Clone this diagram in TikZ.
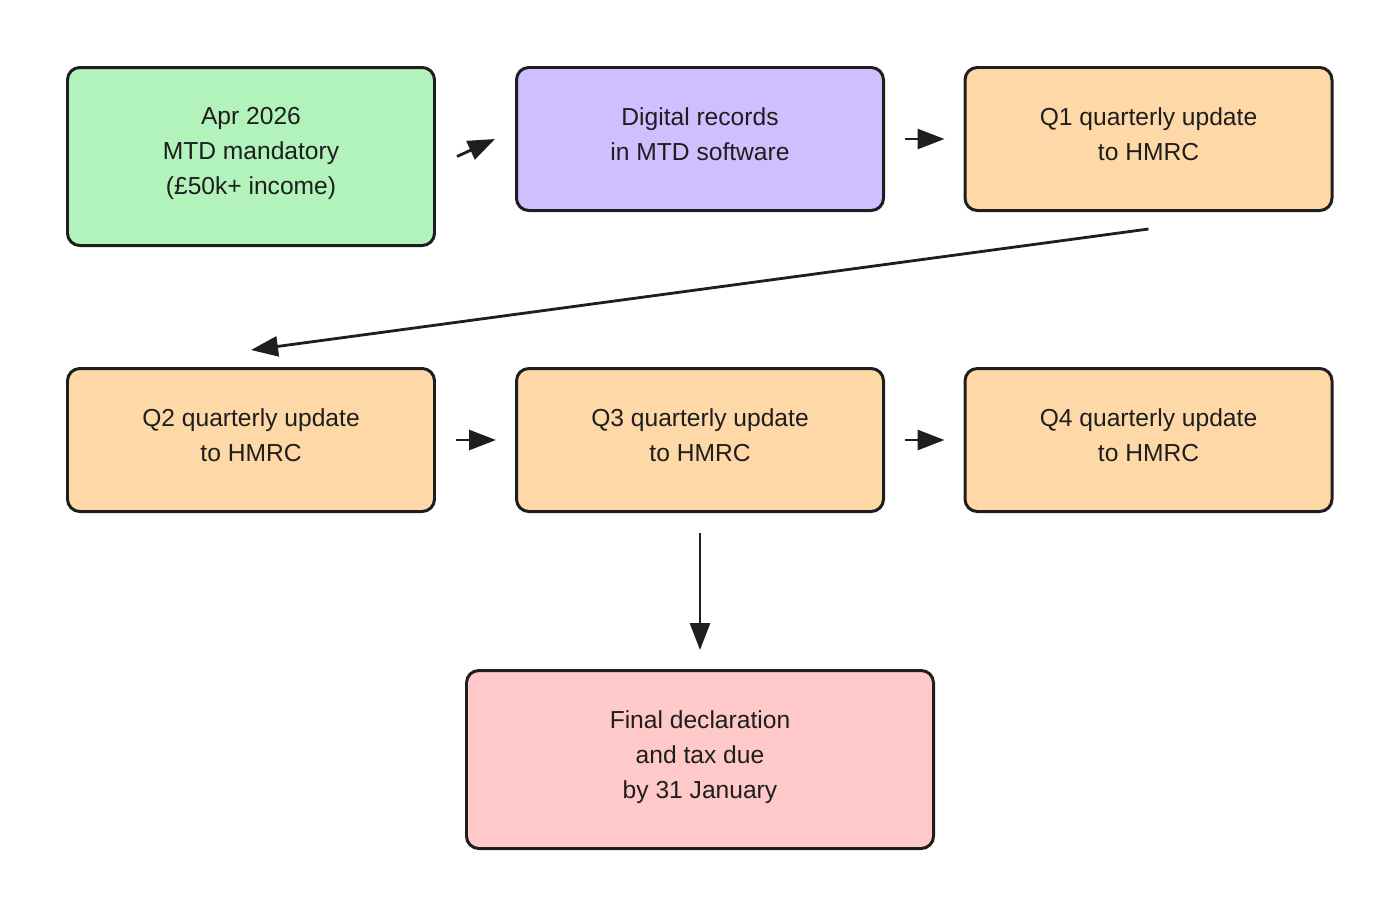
\documentclass[tikz,border=0pt]{standalone}
\usepackage{fontspec}
\setmainfont{Liberation Sans}
\usepackage{xcolor}
\usepackage{tikz}
\usetikzlibrary{arrows.meta, positioning, calc}

\definecolor{inkdark}{HTML}{1E1E1E}
\definecolor{startgreen}{HTML}{B2F2BB}
\definecolor{recordpurple}{HTML}{D0BFFF}
\definecolor{quarterorange}{HTML}{FFD8A8}
\definecolor{finalpink}{HTML}{FFC9C9}

\begin{document}
\begin{tikzpicture}[
    stage/.style={
        rectangle, rounded corners=7pt,
        draw=inkdark, line width=1.7pt,
        minimum width=7.34cm, minimum height=2.86cm,
        text centered, text=inkdark,
        font=\fontsize{14}{19.9}\selectfont,
        align=center, execute at end node=\strut
    },
    tall/.style={minimum height=3.56cm},
    arrow/.style={-{Triangle[length=0.54cm, width=0.4cm]}, line width=1.6pt,
        draw=inkdark},
    gapped/.style={shorten <=0.4cm, shorten >=0.38cm},
]

% Frame
\useasboundingbox (0,0) rectangle (28,-18.32);

% First row
\node[stage, tall, fill=startgreen] (start) at (5.02,-3.13)
    {Apr 2026\\MTD mandatory\\(£50k+ income)};
\node[stage, fill=recordpurple] (records) at (14.0,-2.78)
    {Digital records\\in MTD software};
\node[stage, fill=quarterorange] (qone) at (22.97,-2.78)
    {Q1 quarterly update\\to HMRC};

% Second row
\node[stage, fill=quarterorange] (qtwo) at (5.02,-8.8)
    {Q2 quarterly update\\to HMRC};
\node[stage, fill=quarterorange] (qthree) at (14.0,-8.8)
    {Q3 quarterly update\\to HMRC};
\node[stage, fill=quarterorange] (qfour) at (22.97,-8.8)
    {Q4 quarterly update\\to HMRC};

% Final
\node[stage, tall, minimum width=9.34cm, fill=finalpink] (final) at (14.0,-15.19)
    {Final declaration\\and tax due\\by 31 January};

% Arrows
\draw[arrow] ($(start.east)+(0.42,0)$) -- ($(records.west)+(-0.4,0)$);
\draw[arrow, gapped] (records) -- (qone);
\draw[arrow] ($(qone.south)+(0,-0.34)$) -- ($(qtwo.north)+(0,0.34)$);
\draw[arrow, gapped] (qtwo) -- (qthree);
\draw[arrow, gapped] (qthree) -- (qfour);
\draw[arrow, gapped] (qthree) -- (final);

\end{tikzpicture}
\end{document}
